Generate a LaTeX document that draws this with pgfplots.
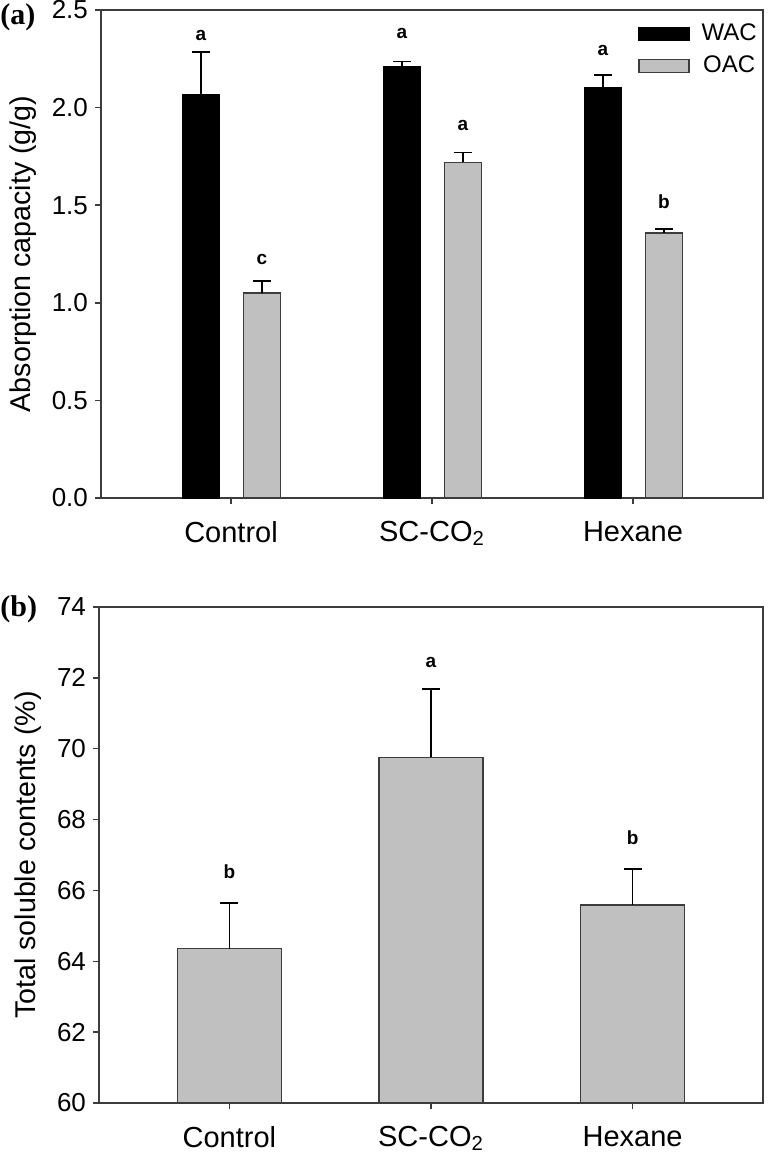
\documentclass[border=0pt]{standalone}
\usepackage{pgfplots}
\pgfplotsset{compat=1.18}
\usepackage{fontspec}
\setmainfont{Liberation Sans}
\newfontfamily\tnr{Liberation Serif}

\definecolor{oacgray}{RGB}{192,192,192}
\definecolor{axgray}{RGB}{60,60,60}

\tikzset{lett/.style={font=\bfseries\fontsize{9.5}{10}\selectfont}}

\pgfplotsset{
  panel/.style={
    scale only axis,
    axis line style={axgray, line width=0.75pt},
    tick style={axgray, line width=0.75pt},
    major tick length=3pt,
    tick align=outside,
    xtick pos=bottom, ytick pos=left,
    xmin=-0.647, xmax=2.647,
    xtick={0,1,2},
    xticklabels={Control, SC-CO\textsubscript{2}, Hexane},
    xticklabel style={font=\fontsize{14.5}{16}\selectfont, yshift=-5pt},
    yticklabel style={font=\fontsize{13}{15}\selectfont},
    ylabel style={font=\fontsize{14.3}{16}\selectfont},
    /pgf/number format/assume math mode=true,
    error bars/y dir=plus, error bars/y explicit,
    error bars/error bar style={black, line width=0.75pt},
    error bars/error mark options={black, line width=0.75pt, rotate=90, mark size=4.5pt},
  },
}

\begin{document}
\begin{tikzpicture}
\useasboundingbox (0,0) rectangle (387pt,-577pt);

% (a) water and oil absorption
\begin{axis}[panel,
  at={(50.5pt,-5pt)}, anchor=north west,
  width=331pt, height=244pt,
  ymin=0, ymax=2.5, ytick={0,0.5,...,2.5},
  yticklabel style={/pgf/number format/.cd, fixed, fixed zerofill, precision=1},
  ylabel={Absorption capacity (g/g)},
  ylabel style={yshift=1pt},
  ybar, bar width=18.5pt,
  legend style={at={(0.811,0.98)}, anchor=north west, draw=none, fill=none,
    font=\fontsize{12}{13}\selectfont, inner sep=0pt, row sep=2pt},
  legend image code/.code={\draw[#1] (0pt,-3.25pt) rectangle (25pt,3.25pt); \path (29pt,0pt);},
]
\addplot+[bar shift=-15pt, fill=black, draw=black, line width=0.7pt]
  table[x=x, y=y, y error=e] {
  x y e
  0 2.065 0.220
  1 2.210 0.025
  2 2.100 0.067
  };
\addplot+[bar shift=15.5pt, fill=oacgray, draw=axgray, line width=0.7pt]
  table[x=x, y=y, y error=e] {
  x y e
  0 1.050 0.062
  1 1.720 0.050
  2 1.358 0.020
  };
\legend{WAC, OAC}
\node[lett, xshift=-15pt] at (axis cs:0,2.37) {a};
\node[lett, xshift=15.5pt] at (axis cs:0,1.22) {c};
\node[lett, xshift=-15pt] at (axis cs:1,2.38) {a};
\node[lett, xshift=15.5pt] at (axis cs:1,1.91) {a};
\node[lett, xshift=-15pt] at (axis cs:2,2.295) {a};
\node[lett, xshift=15.5pt] at (axis cs:2,1.52) {b};
\end{axis}

% (b) total soluble contents
\begin{axis}[panel,
  at={(49.5pt,-303.5pt)}, anchor=north west,
  width=332pt, height=248pt,
  ymin=60, ymax=74, ytick={60,62,...,74},
  ylabel={Total soluble contents (\%)},
  ylabel style={yshift=1pt},
  ybar, bar width=52pt,
]
\addplot+[bar shift=0pt, fill=oacgray, draw=axgray, line width=0.7pt]
  table[x=x, y=y, y error=e] {
  x y e
  0 64.36 1.29
  1 69.76 1.92
  2 65.59 1.01
  };
\node[lett] at (axis cs:0,66.52) {b};
\node[lett] at (axis cs:1,72.43) {a};
\node[lett] at (axis cs:2,67.48) {b};
\end{axis}

\node[anchor=west, inner sep=0pt, font=\tnr\bfseries\fontsize{15}{17}\selectfont] at (0pt,-8.5pt) {(a)};
\node[anchor=west, inner sep=0pt, font=\tnr\bfseries\fontsize{15}{17}\selectfont] at (0pt,-304.5pt) {(b)};
\end{tikzpicture}
\end{document}
